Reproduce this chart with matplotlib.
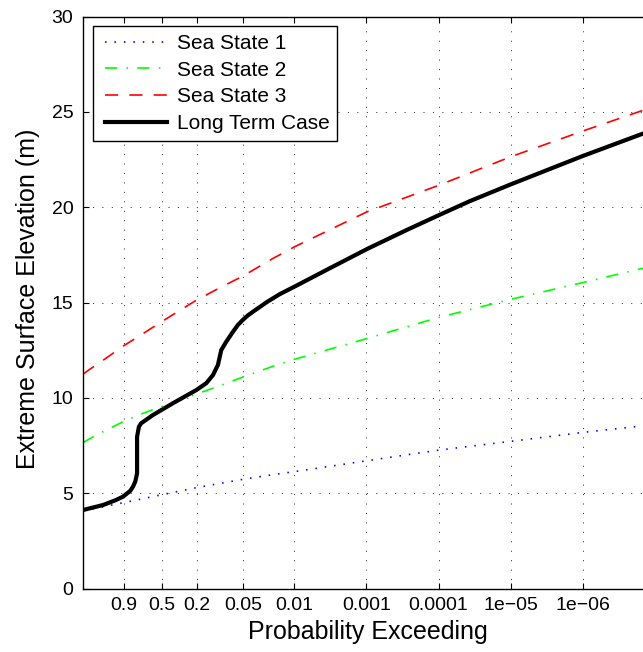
import numpy as np
import matplotlib
matplotlib.use("Agg")
import matplotlib.pyplot as plt
from matplotlib.lines import Line2D
from matplotlib.legend_handler import HandlerLine2D
from matplotlib.ticker import FixedLocator, FixedFormatter, NullLocator

plt.rcParams['font.family'] = ['Liberation Sans', 'DejaVu Sans']
plt.rcParams['lines.scale_dashes'] = False

# ---- data (probability of exceedance, extreme surface elevation in m) ----
p_sea = [0.9998, 0.999, 0.99, 0.9, 0.7, 0.5, 0.3, 0.2, 0.1, 0.05, 0.02, 0.01,
         1e-3, 1e-4, 1e-5, 1e-6, 1e-7]
sea_state_1 = [4.07, 4.14, 4.28, 4.51, 4.73, 4.92, 5.14, 5.30, 5.52, 5.73, 5.97, 6.13,
               6.70, 7.26, 7.72, 8.19, 8.60]
sea_state_2 = [7.66, 7.86, 8.21, 8.78, 9.22, 9.55, 9.93, 10.22, 10.65, 11.10, 11.65, 12.02,
               13.11, 14.22, 15.17, 16.05, 16.95]
sea_state_3 = [11.25, 11.50, 11.95, 12.75, 13.42, 14.00, 14.68, 15.15, 15.80, 16.40, 17.30, 17.92,
               19.75, 21.15, 22.65, 24.00, 25.30]

p_long = [0.9998, 0.989, 0.950, 0.908, 0.850, 0.824, 0.800, 0.782, 0.782, 0.762, 0.737,
          0.601, 0.384, 0.2054, 0.1539, 0.126, 0.1087, 0.0983, 0.0844, 0.0687, 0.0589,
          0.0504, 0.0432, 0.0369, 0.0240, 0.01573, 0.01, 0.0032, 0.00096, 0.00028,
          0.0001, 3.7e-5, 1.0e-5, 1.0e-6, 1.5e-7, 1e-7]
long_term = [4.12, 4.38, 4.64, 4.82, 5.12, 5.34, 5.62, 6.04, 7.96, 8.49, 8.67,
             9.10, 9.72, 10.41, 10.77, 11.20, 11.73, 12.51, 12.95, 13.47, 13.83,
             14.10, 14.33, 14.52, 15.02, 15.45, 15.83, 16.81, 17.83, 18.80,
             19.58, 20.32, 21.20, 22.69, 23.85, 24.07]

xtick_p = [0.9, 0.5, 0.2, 0.05, 0.01, 1e-3, 1e-4, 1e-5, 1e-6]
xtick_labels = ['0.9', '0.5', '0.2', '0.05', '0.01', '0.001', '0.0001', '1e\u221205', '1e\u221206']
yticks = [0, 5, 10, 15, 20, 25, 30]


# Gumbel probability scale
def fwd(p):
    p = np.clip(np.asarray(p, dtype=float), 1e-300, 1 - 1e-16)
    return np.log(-np.log1p(-p))


def inv(g):
    g = np.asarray(g, dtype=float)
    return -np.expm1(-np.exp(g))


W, H = 643, 652
fig = plt.figure(figsize=(W / 100, H / 100), dpi=100)
ax_l, ax_r, ax_t, ax_b = 83, 654.8, 16.7, 588.5
ax = fig.add_axes([ax_l / W, (H - ax_b) / H, (ax_r - ax_l) / W, (ax_b - ax_t) / H])
ax.set_xscale('function', functions=(fwd, inv))

l1, = ax.plot(p_sea, sea_state_1, color='#0000ff', lw=1.2, dashes=(1.1, 5.7),
              label='Sea State 1')
l2, = ax.plot(p_sea, sea_state_2, color='#00ff00', lw=1.2, dashes=(8.8, 6.7, 1.1, 6.7),
              label='Sea State 2')
l3, = ax.plot(p_sea, sea_state_3, color='#ff0000', lw=1.2, dashes=(9.5, 8.0),
              label='Sea State 3')
l4, = ax.plot(p_long, long_term, color='black', lw=3.0, solid_joinstyle='round',
              label='Long Term Case')

ax.set_xlim(0.99981, 1e-7)
ax.set_ylim(0, 30)
ax.xaxis.set_major_locator(FixedLocator(xtick_p))
ax.xaxis.set_major_formatter(FixedFormatter(xtick_labels))
ax.xaxis.set_minor_locator(NullLocator())
ax.set_yticks(yticks)
ax.set_yticklabels([str(v) for v in yticks])

ax.grid(True, color='black', lw=0.6, dashes=(0.7, 6.1))
ax.set_axisbelow(True)
ax.tick_params(direction='in', length=4, width=0.8, top=True, right=True,
               labelsize=14, colors='black')
ax.tick_params(axis='x', pad=6)
ax.tick_params(axis='y', pad=7)
for s in ax.spines.values():
    s.set_linewidth(1.0)
    s.set_color('black')

ax.set_xlabel('Probability Exceeding', fontsize=18)
ax.set_ylabel('Extreme Surface Elevation (m)', fontsize=18)
ax.xaxis.set_label_coords((367.5 - ax_l) / (ax_r - ax_l), (ax_b - 620) / (ax_b - ax_t))
ax.yaxis.set_label_coords((40 - ax_l) / (ax_r - ax_l), (ax_b - 298.5) / (ax_b - ax_t))

leg = ax.legend(handles=[l1, l2, l3, l4], loc='upper left',
                bbox_to_anchor=((92.7 - ax_l) / (ax_r - ax_l), 1 - (26 - ax_t) / (ax_b - ax_t)),
                borderaxespad=0, fontsize=15, fancybox=False, framealpha=1,
                edgecolor='black', borderpad=0.38, labelspacing=0.37,
                handlelength=3.40, handletextpad=0.25,
                handler_map={Line2D: HandlerLine2D(marker_pad=0.21, numpoints=2)})
leg.get_frame().set_linewidth(1.0)

fig.savefig('out.png', dpi=100)
